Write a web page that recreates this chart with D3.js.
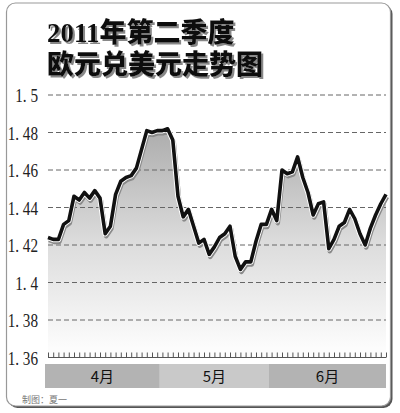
<!DOCTYPE html>
<html><head><meta charset="utf-8">
<script src="https://cdn.jsdelivr.net/npm/d3@7"></script>
<style>html,body{margin:0;padding:0;background:#fff;}svg{display:block;}</style>
</head><body>
<script>
const titleLines = ["2011年第二季度", "欧元兑美元走势图"];
const credit = "制图：夏一";
const yTicks = [1.36, 1.38, 1.40, 1.42, 1.44, 1.46, 1.48, 1.5];
const yTickLabels = ["1. 36", "1. 38", "1. 4", "1. 42", "1. 44", "1. 46", "1. 48", "1. 5"];
const months = ["4月", "5月", "6月"];
const monthCounts = [22, 21, 23];
const rate = [
  1.424, 1.423, 1.423, 1.431, 1.433, 1.446, 1.444, 1.448, 1.445, 1.449,
  1.445, 1.426, 1.430, 1.447, 1.454, 1.456, 1.457, 1.461, 1.471, 1.481,
  1.480, 1.481, 1.481, 1.482, 1.476, 1.446, 1.435, 1.439, 1.430, 1.421,
  1.423, 1.415, 1.419, 1.424, 1.426, 1.430, 1.414, 1.407, 1.411, 1.411,
  1.422, 1.431, 1.431, 1.439, 1.433, 1.460, 1.458, 1.459, 1.467, 1.456,
  1.448, 1.436, 1.442, 1.443, 1.418, 1.423, 1.430, 1.432, 1.439, 1.434,
  1.426, 1.420, 1.429, 1.436, 1.442, 1.447
];

const W = 400, H = 413;
const svg = d3.select("body").append("svg").attr("width", W).attr("height", H);
const defs = svg.append("defs");

const x = d3.scaleLinear().domain([0, rate.length - 1]).range([48, 386]);
const y = d3.scaleLinear().domain([1.36, 1.5]).range([357.5, 95]);

// frame
svg.append("rect").attr("x", 8.5).attr("y", 5).attr("width", 384).attr("height", 403)
  .attr("rx", 9).attr("fill", "#555");
svg.append("rect").attr("x", 6.5).attr("y", 3).attr("width", 384).attr("height", 403)
  .attr("rx", 9).attr("fill", "#fff").attr("stroke", "#999").attr("stroke-width", 1.2);

// title with drop shadow
const f = defs.append("filter").attr("id", "ts").attr("x", "-5%").attr("y", "-20%")
  .attr("width", "115%").attr("height", "150%");
f.append("feDropShadow").attr("dx", 2).attr("dy", 2).attr("stdDeviation", 0.6)
  .attr("flood-color", "#888").attr("flood-opacity", 1);
const tg = svg.append("g").attr("font-family", "'Liberation Serif','Noto Sans CJK SC',serif")
  .attr("font-weight", 900).attr("font-size", 27).attr("filter", "url(#ts)");
tg.selectAll("text").data(titleLines).join("text")
  .attr("x", 47).attr("y", (d, i) => 42 + i * 32).attr("fill", "#111").text(d => d);

// gradient for area
const grad = defs.append("linearGradient").attr("id", "ag")
  .attr("gradientUnits", "userSpaceOnUse").attr("x1", 0).attr("x2", 0)
  .attr("y1", y(1.49)).attr("y2", y(1.365));
grad.append("stop").attr("offset", 0).attr("stop-color", "#a6a6a6");
grad.append("stop").attr("offset", 0.55).attr("stop-color", "#dcdcdc");
grad.append("stop").attr("offset", 1).attr("stop-color", "#fcfcfc");

const area = d3.area().x((d, i) => x(i)).y0(y(1.36)).y1(d => y(d));
svg.append("path").datum(rate).attr("d", area).attr("fill", "url(#ag)");

// grid
const gridG = svg.append("g");
gridG.selectAll("line").data(yTicks.filter(v => v > 1.36)).join("line")
  .attr("x1", 48).attr("x2", 386).attr("y1", d => y(d)).attr("y2", d => y(d))
  .attr("stroke", "#666").attr("stroke-width", 1).attr("stroke-dasharray", "5,3");

// y axis labels
const yAxis = d3.axisLeft(y).tickValues(yTicks).tickSize(0)
  .tickFormat((d, i) => yTickLabels[i]);
const yg = svg.append("g").attr("transform", "translate(38,0)").call(yAxis);
yg.select(".domain").remove();
yg.selectAll("text").attr("x", 0).attr("dy", "0.36em")
  .attr("transform", "scale(0.8,1)")
  .attr("font-family", "'Liberation Serif',serif").attr("font-size", 19)
  .attr("fill", "#222").attr("text-anchor", "end");

// bottom comb ticks
const xAxis = d3.axisTop(x).tickValues(d3.range(rate.length)).tickSize(5).tickFormat("");
const xg = svg.append("g").attr("transform", `translate(0,${y(1.36)})`).call(xAxis);
xg.select(".domain").attr("stroke", "#555").attr("d", `M${x(0)},0H${x(rate.length - 1)}`);
xg.selectAll(".tick line").attr("stroke", "#555");

// line with shadow
const line = d3.line().x((d, i) => x(i)).y(d => y(d));
svg.append("path").datum(rate).attr("d", line).attr("fill", "none")
  .attr("stroke", "#8a8a8a").attr("stroke-width", 4.5).attr("stroke-linejoin", "round")
  .attr("transform", "translate(1,2.5)");
svg.append("path").datum(rate).attr("d", line).attr("fill", "none")
  .attr("stroke", "#fff").attr("stroke-width", 5.5).attr("stroke-linejoin", "round");
svg.append("path").datum(rate).attr("d", line).attr("fill", "none")
  .attr("stroke", "#111").attr("stroke-width", 3.6).attr("stroke-linejoin", "round");

// month bands
let start = 0;
const bands = months.map((m, i) => {
  const b = { name: m, s: start, e: start + monthCounts[i] - 1, i };
  start += monthCounts[i];
  return b;
});
const bx0 = d => d.i === 0 ? 45 : x(d.s - 0.5);
const bx1 = d => d.i === bands.length - 1 ? 386 : x(d.e + 0.5);
const bg = svg.append("g");
bg.selectAll("rect").data(bands).join("rect")
  .attr("x", bx0).attr("width", d => bx1(d) - bx0(d))
  .attr("y", 364).attr("height", 24)
  .attr("fill", d => d.i % 2 === 0 ? "#b3b3b3" : "#c9c9c9");
bg.selectAll("text").data(bands).join("text")
  .attr("x", d => (bx0(d) + bx1(d)) / 2)
  .attr("y", 382).attr("text-anchor", "middle")
  .attr("font-family", "'Noto Sans CJK SC',sans-serif").attr("font-size", 15)
  .attr("fill", "#111").text(d => d.name);

// credit
svg.append("text").attr("x", 22).attr("y", 403)
  .attr("font-family", "'Noto Sans CJK SC',sans-serif").attr("font-size", 9)
  .attr("fill", "#777").text(credit);
</script>
</body></html>
